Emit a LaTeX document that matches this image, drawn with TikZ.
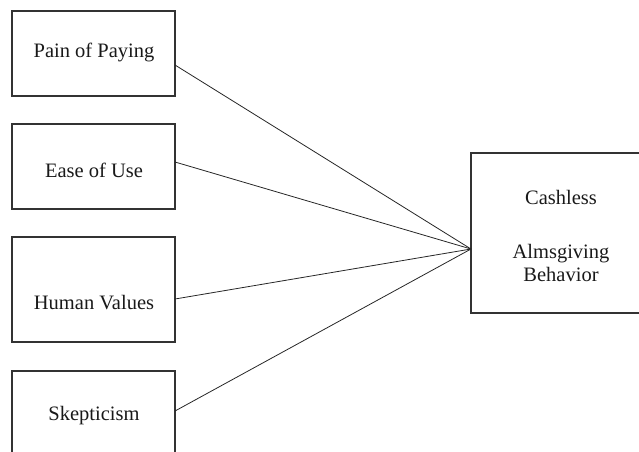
\documentclass[tikz,border=0pt]{standalone}
\usepackage{fontspec}
\setmainfont{Liberation Serif}
\begin{document}
\begin{tikzpicture}[x=1pt,y=-1pt,
  box/.style={draw=black!80,line width=1.1pt,inner sep=0pt},
  lbl/.style={font=\fontsize{20.5}{23}\selectfont,text=black!90,align=center,inner sep=0pt},
  link/.style={draw=black!85,line width=0.8pt}]
\useasboundingbox (0,0) rectangle (639,451);
\clip (0,0) rectangle (639,451);
% boxes
\draw[box] (12,11) rectangle (175,96);
\draw[box] (12,124) rectangle (175,209);
\draw[box] (12,237) rectangle (175,342);
\draw[box] (12,371) rectangle (175,460);
\draw[box] (471,153) rectangle (650,313);
% labels
\node[lbl] (t1) at (94,52) {Pain of Paying};
\node[lbl] (t2) at (94,170) {Ease of Use};
\node[lbl] (t3) at (94,303) {Human Values};
\node[lbl] (t4) at (94,416) {Skepticism};
\node[lbl] (t5a) at (561,197) {Cashless};
\node[lbl] (t5b) at (561,263) {Almsgiving\\Behavior};
% connector end points
\coordinate (p1) at (175,65);
\coordinate (p2) at (175,162);
\coordinate (p3) at (175,299);
\coordinate (p4) at (175,411);
\coordinate (hub) at (471,249);
\draw[link] (p1) -- (hub);
\draw[link] (p2) -- (hub);
\draw[link] (p3) -- (hub);
\draw[link] (p4) -- (hub);
\end{tikzpicture}
\end{document}
